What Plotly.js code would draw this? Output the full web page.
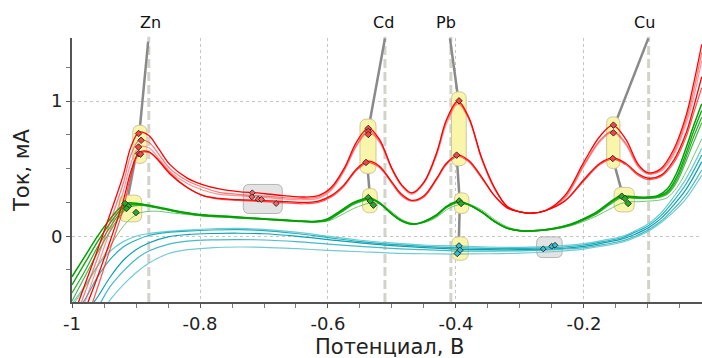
<!DOCTYPE html>
<html>
<head>
<meta charset="utf-8">
<script src="https://cdn.plot.ly/plotly-3.0.1.min.js"></script>
<style>html,body{margin:0;padding:0;background:#fff;}#chart{width:702px;height:358px;}</style>
</head>
<body>
<div id="chart"></div>
<script>
// ---- data ----
const redX = [-1.0,-0.98,-0.96,-0.94,-0.92,-0.908,-0.895,-0.88,-0.865,-0.847,-0.82,-0.795,-0.77,-0.74,-0.71,-0.68,-0.64,-0.615,-0.595,-0.575,-0.555,-0.537,-0.52,-0.5,-0.485,-0.469,-0.45,-0.43,-0.415,-0.397,-0.38,-0.36,-0.34,-0.32,-0.3,-0.284,-0.26,-0.23,-0.2,-0.175,-0.155,-0.135,-0.115,-0.1,-0.08,-0.06,-0.04,-0.03,-0.016];
const redA1 = [-0.62,-0.36,-0.10,0.17,0.45,0.66,0.77,0.745,0.65,0.53, 0.43,0.38,0.35,0.33,0.32,0.305,0.29,0.30,0.36,0.50, 0.70,0.80,0.72,0.50,0.38,0.32,0.40,0.62,0.86,1.00, 0.88,0.58,0.36,0.22,0.18,0.17,0.19,0.30,0.55,0.74, 0.82,0.72,0.53,0.47,0.50,0.64,0.90,1.10,1.42];
const redA2 = [-0.68,-0.42,-0.16,0.11,0.39,0.60,0.71,0.695,0.61,0.50, 0.41,0.36,0.325,0.31,0.30,0.29,0.28,0.29,0.35,0.49, 0.68,0.78,0.71,0.50,0.38,0.32,0.40,0.62,0.85,0.99, 0.87,0.57,0.35,0.22,0.18,0.17,0.19,0.29,0.53,0.71, 0.78,0.69,0.52,0.465,0.49,0.62,0.87,1.05,1.36];
const redA3 = [-0.74,-0.49,-0.22,0.05,0.33,0.54,0.66,0.655,0.58,0.48, 0.39,0.34,0.31,0.30,0.29,0.28,0.27,0.28,0.34,0.48, 0.67,0.77,0.70,0.49,0.37,0.31,0.39,0.60,0.83,0.98, 0.87,0.58,0.36,0.22,0.18,0.17,0.19,0.28,0.52,0.70, 0.77,0.68,0.51,0.46,0.48,0.60,0.84,1.00,1.30];
const redB1 = [-0.80,-0.55,-0.30,-0.03,0.26,0.48,0.62,0.625,0.56,0.46, 0.36,0.30,0.28,0.27,0.265,0.26,0.25,0.26,0.30,0.38, 0.50,0.555,0.52,0.40,0.31,0.265,0.30,0.43,0.54,0.60, 0.56,0.44,0.30,0.21,0.18,0.17,0.19,0.26,0.42,0.54, 0.58,0.54,0.46,0.43,0.45,0.56,0.77,0.93,1.18];
const redB2 = [-0.88,-0.65,-0.38,-0.09,0.20,0.45,0.61,0.62,0.565,0.47, 0.36,0.30,0.275,0.265,0.258,0.25,0.24,0.25,0.29,0.37, 0.49,0.545,0.51,0.39,0.30,0.26,0.29,0.42,0.53,0.59, 0.55,0.43,0.30,0.21,0.18,0.17,0.19,0.26,0.41,0.53, 0.57,0.53,0.45,0.42,0.44,0.54,0.74,0.89,1.10];

const greenX = [-1.0,-0.98,-0.96,-0.94,-0.925,-0.913,-0.895,-0.87,-0.84,-0.8,-0.75,-0.7,-0.65,-0.62,-0.6,-0.58,-0.56,-0.545,-0.535,-0.52,-0.5,-0.485,-0.467,-0.45,-0.43,-0.415,-0.397,-0.38,-0.36,-0.34,-0.32,-0.3,-0.28,-0.25,-0.22,-0.2,-0.18,-0.16,-0.143,-0.13,-0.115,-0.1,-0.085,-0.07,-0.055,-0.04,-0.03,-0.016];
const greenG1 = [-0.30,-0.15,0.0,0.13,0.21,0.245,0.24,0.22,0.19,0.16, 0.145,0.13,0.115,0.11,0.13,0.19,0.25,0.275,0.285,0.25, 0.165,0.115,0.09,0.11,0.16,0.22,0.258,0.235,0.18,0.11, 0.06,0.04,0.04,0.055,0.09,0.13,0.18,0.25,0.30,0.295, 0.29,0.29,0.30,0.35,0.47,0.66,0.80,0.98];
const greenG2 = [-0.36,-0.20,-0.04,0.10,0.19,0.235,0.235,0.215,0.185,0.158, 0.143,0.128,0.113,0.108,0.125,0.185,0.245,0.27,0.28,0.245, 0.162,0.112,0.088,0.108,0.158,0.218,0.255,0.232,0.178,0.108, 0.058,0.04,0.04,0.055,0.088,0.128,0.175,0.245,0.295,0.29, 0.285,0.285,0.295,0.33,0.44,0.62,0.76,0.93];
const greenG3 = [-0.42,-0.26,-0.08,0.07,0.17,0.225,0.235,0.215,0.185,0.155, 0.14,0.126,0.112,0.106,0.12,0.18,0.24,0.268,0.278,0.245, 0.165,0.115,0.088,0.105,0.155,0.215,0.252,0.232,0.18,0.11, 0.06,0.04,0.038,0.052,0.085,0.124,0.17,0.24,0.29,0.288, 0.283,0.283,0.29,0.32,0.42,0.59,0.72,0.88];
const greenG4 = [-0.48,-0.30,-0.12,0.04,0.15,0.21,0.228,0.212,0.183,0.153, 0.138,0.124,0.11,0.105,0.118,0.175,0.235,0.262,0.272,0.245, 0.168,0.118,0.09,0.104,0.15,0.21,0.248,0.232,0.182,0.112, 0.062,0.042,0.038,0.05,0.082,0.12,0.165,0.232,0.282,0.285, 0.28,0.28,0.285,0.31,0.40,0.56,0.68,0.84];
const greenG5 = [-0.52,-0.38,-0.22,-0.07,0.04,0.11,0.17,0.185,0.17,0.152, 0.138,0.124,0.11,0.104,0.112,0.155,0.205,0.232,0.245,0.24, 0.18,0.125,0.095,0.1,0.14,0.195,0.232,0.235,0.195,0.125, 0.07,0.045,0.04,0.05,0.078,0.11,0.15,0.2,0.24,0.255, 0.255,0.26,0.265,0.285,0.36,0.48,0.58,0.72];

const cyanX = [-1.0,-0.98,-0.96,-0.94,-0.92,-0.9,-0.88,-0.85,-0.82,-0.78,-0.74,-0.7,-0.65,-0.6,-0.55,-0.5,-0.45,-0.4,-0.35,-0.3,-0.25,-0.2,-0.17,-0.14,-0.12,-0.1,-0.08,-0.06,-0.04,-0.016];
const cyanC1 = [-0.50,-0.37,-0.22,-0.11,-0.04,0.0,0.02,0.035,0.045,0.055, 0.058,0.05,0.03,0.0,-0.03,-0.05,-0.065,-0.072,-0.08,-0.082, -0.075,-0.055,-0.03,0.0,0.04,0.09,0.17,0.29,0.43,0.65];
const cyanC2 = [-0.60,-0.47,-0.30,-0.17,-0.08,-0.03,0.005,0.028,0.038,0.046, 0.048,0.042,0.02,-0.01,-0.04,-0.06,-0.075,-0.085,-0.09,-0.09, -0.085,-0.065,-0.04,-0.01,0.03,0.075,0.15,0.26,0.39,0.60];
const cyanC3 = [-0.72,-0.58,-0.45,-0.30,-0.18,-0.10,-0.05,-0.005,0.012,0.02, 0.022,0.018,0.0,-0.025,-0.05,-0.07,-0.085,-0.095,-0.1,-0.1, -0.095,-0.075,-0.05,-0.02,0.015,0.06,0.13,0.23,0.35,0.55];
const cyanC4 = [-0.85,-0.68,-0.53,-0.37,-0.26,-0.17,-0.11,-0.06,-0.037,-0.027, -0.025,-0.028,-0.04,-0.058,-0.075,-0.09,-0.1,-0.11,-0.11,-0.108, -0.1,-0.085,-0.062,-0.035,0.0,0.045,0.11,0.2,0.31,0.49];
const cyanC5 = [-0.95,-0.80,-0.62,-0.47,-0.36,-0.27,-0.2,-0.13,-0.1,-0.085, -0.08,-0.082,-0.092,-0.105,-0.115,-0.125,-0.13,-0.132,-0.13,-0.125, -0.115,-0.095,-0.072,-0.045,-0.01,0.035,0.1,0.18,0.28,0.45];

// peak markers
const redPeakX = [-0.896,-0.892,-0.896,-0.896,-0.893, -0.537,-0.537,-0.537,-0.5406, -0.3953,-0.399, -0.154,-0.154,-0.155];
const redPeakY = [0.76,0.71,0.66,0.612,0.607, 0.798,0.775,0.753,0.546, 1.002,0.60, 0.822,0.765,0.575];
const greenPeakX = [-0.917,-0.912,-0.915,-0.900, -0.537,-0.534,-0.529, -0.395,-0.392, -0.141,-0.136,-0.131];
const greenPeakY = [0.242,0.222,0.205,0.175, 0.286,0.261,0.23, 0.261,0.242, 0.296,0.279,0.242];
const cyanPeakX = [-0.3953,-0.394,-0.398];
const cyanPeakY = [-0.072,-0.104,-0.128];
const baseRedX = [-0.7183,-0.719,-0.709,-0.704,-0.681];
const baseRedY = [0.321,0.291,0.274,0.272,0.242];
const baseCyanX = [-0.2636,-0.2505,-0.2453];
const baseCyanY = [-0.094,-0.074,-0.067];

// elements, peak potentials and label lines
const elements = ['Zn','Cd','Pb','Cu'];
const labelX = [-0.877,-0.514,-0.416,-0.105];
const peakPotential = [-0.88,-0.511,-0.408,-0.099];
const linkX = [[-0.881,-0.896,-0.915],[-0.511,-0.537,-0.539,-0.534],[-0.4094,-0.396,-0.399,-0.394,-0.396],[-0.0995,-0.154,-0.155,-0.138]];
const linkY = [[1.44,0.70,0.23],[1.464,0.79,0.55,0.27],[1.464,1.0,0.6,0.25,-0.1],[1.464,0.80,0.575,0.28]];

// highlight boxes [x0,x1,y0,y1]
const peakBoxX0 = [-0.905,-0.926,-0.55,-0.546,-0.407,-0.4026,-0.4067,-0.1646,-0.153];
const peakBoxX1 = [-0.883,-0.891,-0.525,-0.523,-0.384,-0.3797,-0.3808,-0.1438,-0.1214];
const peakBoxY0 = [0.539,0.106,0.464,0.173,0.521,0.168,-0.178,0.501,0.18];
const peakBoxY1 = [0.822,0.304,0.867,0.353,1.069,0.321,-0.005,0.884,0.361];
const baseBoxX0 = [-0.7323,-0.274];
const baseBoxX1 = [-0.6714,-0.234];
const baseBoxY0 = [0.168,-0.158];
const baseBoxY1 = [0.383,-0.005];

const xTicks = [-1,-0.8,-0.6,-0.4,-0.2];
const xTickText = ['-1','-0.8','-0.6','-0.4','-0.2'];
const yTicks = [0,1];
const yTickText = ['0','1'];

// ---- layout geometry ----
const W = 702, H = 358;
const M = {l:72, r:0, t:38, b:56};
const xRange = [-1, -0.0156];
const yRange = [-0.487, 1.467];
const pxX = (W - M.l - M.r) / (xRange[1] - xRange[0]);
const pxY = (H - M.t - M.b) / (yRange[1] - yRange[0]);

function roundRect(x0, x1, y0, y1, rPx) {
  const wpx = (x1 - x0) * pxX, hpx = (y1 - y0) * pxY;
  const r = Math.min(rPx, wpx / 2, hpx / 2);
  const rx = r / pxX, ry = r / pxY;
  return `M${x0+rx},${y0} L${x1-rx},${y0} Q${x1},${y0} ${x1},${y0+ry} L${x1},${y1-ry} Q${x1},${y1} ${x1-rx},${y1} L${x0+rx},${y1} Q${x0},${y1} ${x0},${y1-ry} L${x0},${y0+ry} Q${x0},${y0} ${x0+rx},${y0} Z`;
}

const shapes = [];
peakPotential.forEach(p => shapes.push({type:'line', layer:'between', xref:'x', yref:'paper', x0:p, x1:p, y0:0, y1:1.005,
  line:{color:'#d3d3cb', width:3, dash:'9px,4px'}}));
linkX.forEach((xs, i) => {
  const d = xs.map((x, j) => (j ? 'L' : 'M') + x + ',' + linkY[i][j]).join(' ');
  shapes.push({type:'path', layer:'between', xref:'x', yref:'y', path:d, line:{color:'#8a8a8a', width:2.5}});
});
peakBoxX0.forEach((x0, i) => shapes.push({type:'path', layer:'between', xref:'x', yref:'y',
  path: roundRect(x0, peakBoxX1[i], peakBoxY0[i], peakBoxY1[i], 7),
  fillcolor:'#f9f5ab', line:{color:'#cfc79a', width:1}}));
baseBoxX0.forEach((x0, i) => shapes.push({type:'path', layer:'between', xref:'x', yref:'y',
  path: roundRect(x0, baseBoxX1[i], baseBoxY0[i], baseBoxY1[i], 6),
  fillcolor:'#e3e3e3', line:{color:'#b4b4b4', width:1}}));

function line(x, y, color, width) {
  return {x:x, y:y, type:'scatter', mode:'lines', line:{color:color, width:width, shape:'spline', smoothing:1}, hoverinfo:'skip', showlegend:false};
}
function marks(x, y, color, size) {
  return {x:x, y:y, type:'scatter', mode:'markers', marker:{symbol:'diamond', size:size, color:color, line:{color:'#333', width:1}}, hoverinfo:'skip', showlegend:false};
}

const traces = [
  line(cyanX, cyanC1, '#6ccbd3', 1.2),
  line(cyanX, cyanC2, '#22b1bd', 1.2),
  line(cyanX, cyanC3, '#0aa2b2', 1.2),
  line(cyanX, cyanC4, '#45bac6', 1.2),
  line(cyanX, cyanC5, '#74cad2', 1.2),
  line(greenX, greenG5, '#72c872', 1),
  line(greenX, greenG4, 'rgba(30,165,30,0.8)', 1.2),
  line(greenX, greenG3, 'rgba(0,160,0,0.85)', 1.2),
  line(greenX, greenG2, '#10a810', 1.4),
  line(greenX, greenG1, '#00a000', 1.5),
  line(redX, redA3, 'rgba(255,90,90,0.65)', 1.2),
  line(redX, redA2, 'rgba(255,60,60,0.7)', 1.2),
  line(redX, redB2, 'rgba(255,40,40,0.8)', 1.2),
  line(redX, redB1, '#ff0000', 1.3),
  line(redX, redA1, '#ff0000', 1.3),
  marks(redPeakX, redPeakY, '#ff4040', 5),
  marks(greenPeakX, greenPeakY, '#20b020', 5),
  marks(cyanPeakX, cyanPeakY, '#30c0d0', 5),
  marks(baseRedX, baseRedY, '#ff6060', 4.5),
  marks(baseCyanX, baseCyanY, '#30c0d0', 4.5)
];

const annotations = elements.map((e, i) => ({x:labelX[i], xref:'x', y:1.057, yref:'paper', text:e, showarrow:false,
  font:{size:16, color:'#111', family:'DejaVu Sans'}, xanchor:'center', yanchor:'middle'}));
annotations.push({x:-0.0794, xref:'paper', y:0.5, yref:'paper', text:'Ток, мА', textangle:-90, showarrow:false,
  font:{size:21, color:'#222', family:'DejaVu Sans'}, xanchor:'center', yanchor:'middle'});
annotations.push({x:0.504, xref:'paper', y:-0.17, yref:'paper', text:'Потенциал, В', showarrow:false,
  font:{size:21, color:'#222', family:'DejaVu Sans'}, xanchor:'center', yanchor:'middle'});

const axisCommon = {showline:true, linecolor:'#555', linewidth:2, ticks:'outside', ticklen:4, tickcolor:'#555', tickwidth:1,
  showgrid:true, gridcolor:'#c6c6c6', gridwidth:1, griddash:'3px,3px', zeroline:false,
  tickfont:{size:18, color:'#222', family:'DejaVu Sans'}, fixedrange:true};

const layout = {
  width:W, height:H, margin:M, paper_bgcolor:'#fff', plot_bgcolor:'#fff',
  font:{family:'DejaVu Sans'},
  xaxis:Object.assign({}, axisCommon, {range:xRange, tickmode:'array', tickvals:xTicks, ticktext:xTickText,
    minor:{tick0:-1, dtick:0.05, ticks:'outside', ticklen:4, tickcolor:'#777', showgrid:false}}),
  yaxis:Object.assign({}, axisCommon, {range:yRange, tickmode:'array', tickvals:yTicks, ticktext:yTickText,
    minor:{tick0:0, dtick:0.25, ticks:'outside', ticklen:4, tickcolor:'#777', showgrid:false}}),
  shapes:shapes, annotations:annotations, showlegend:false
};

Plotly.newPlot('chart', traces, layout, {displayModeBar:false, staticPlot:true});
</script>
</body>
</html>
